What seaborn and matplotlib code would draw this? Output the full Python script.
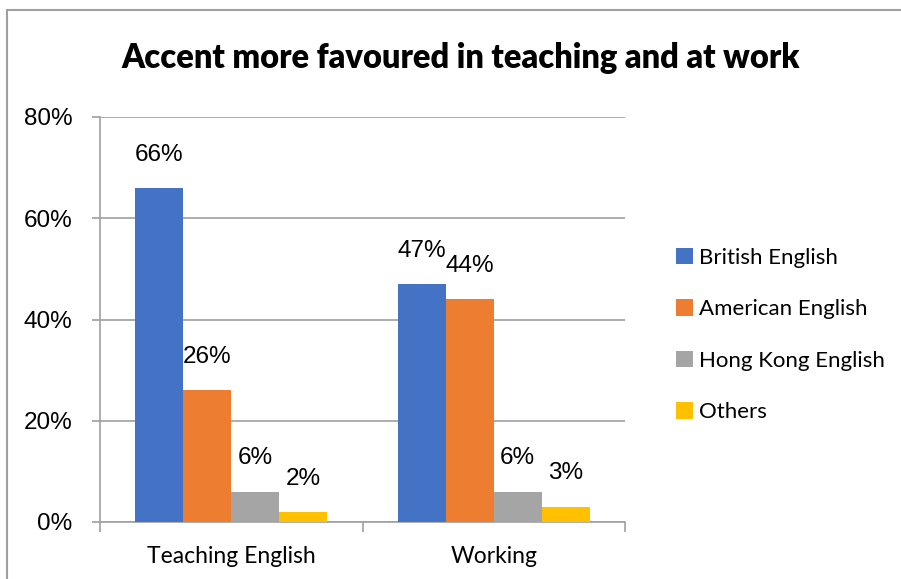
import matplotlib
matplotlib.use("Agg")
import matplotlib.pyplot as plt
import seaborn as sns
import pandas as pd
from matplotlib.lines import Line2D
from matplotlib.patches import Patch

categories = ["Teaching English", "Working"]
series = ["British English", "American English", "Hong Kong English", "Others"]
british = [66, 47]
american = [26, 44]
hongkong = [6, 6]
others = [2, 3]
colors = ["#4472C4", "#ED7D31", "#A5A5A5", "#FFC000"]
yticks = [0, 20, 40, 60, 80]
title = "Accent more favoured in teaching and at work"

rows = []
for s, vals in zip(series, [british, american, hongkong, others]):
    for c, v in zip(categories, vals):
        rows.append({"Category": c, "Series": s, "Value": v})
df = pd.DataFrame(rows)

sns.set_theme(style="white")
plt.rcParams['font.family'] = ['Liberation Sans', 'DejaVu Sans']
plt.rcParams['text.color'] = 'black'
plt.rcParams['xtick.color'] = 'black'
plt.rcParams['ytick.color'] = 'black'

W, H = 901, 579
fig = plt.figure(figsize=(W / 100, H / 100), dpi=100)
ax = fig.add_axes([100 / W, 1 - 522 / H, (625 - 100) / W, (522 - 117) / H])

sns.barplot(data=df, x="Category", y="Value", hue="Series", hue_order=series,
            order=categories, palette=colors, width=0.73, saturation=1,
            ax=ax, legend=False, linewidth=0, zorder=3)

ax.set_ylim(0, 80)
ax.set_xlim(-0.5, 1.5)
ax.set_yticks(yticks)
ax.set_yticklabels([f"{t}%" for t in yticks], fontsize=17.5, family=['Liberation Sans'])
ax.yaxis.grid(True, color="#A0A0A0", linewidth=1.2, zorder=0)
ax.set_axisbelow(True)
ax.set_xlabel("")
ax.set_ylabel("")

for side in ["top", "right"]:
    ax.spines[side].set_visible(False)
for side in ["left", "bottom"]:
    ax.spines[side].set_color("#A0A0A0")
    ax.spines[side].set_linewidth(1.2)

ax.tick_params(axis="y", which="both", left=True, length=6, width=1.2, color="#A0A0A0",
               labelcolor="black", pad=14)
ax.set_xticks([-0.5, 0.5, 1.5])
ax.set_xticklabels([])
ax.tick_params(axis="x", which="major", bottom=True, length=7, width=1.2, color="#A0A0A0")
ax.set_xticks([0, 1], minor=True)
ax.set_xticklabels(categories, minor=True, fontsize=16.5, family=['Lato'])
ax.tick_params(axis="x", which="minor", bottom=False, length=0, pad=17, labelcolor="black")

for cont in ax.containers:
    for bar in cont:
        h = bar.get_height()
        ax.annotate(f"{h:.0f}%", (bar.get_x() + bar.get_width() / 2, h),
                    xytext=(0, 24), textcoords="offset points",
                    ha="center", va="center", fontsize=17.5, color="black",
                    family=['Liberation Sans'])

handles = [Patch(facecolor=c, edgecolor="none") for c in colors]
fig.legend(handles, series, loc="center left", bbox_to_anchor=(656 / W, 1 - 335 / H),
           frameon=False, prop={"family": "Lato", "size": 16},
           handlelength=0.75, handleheight=0.75, handletextpad=0.3, labelspacing=1.42)

fig.text(461 / W, 1 - 58 / H, title, ha="center", va="center", color="black",
         fontsize=23.5, fontweight="heavy", family=['Lato'])

# chart frame
fig.add_artist(Line2D([7 / W, 1], [1 - 10 / H, 1 - 10 / H], color="#A0A0A0", linewidth=1.5,
                      transform=fig.transFigure))
fig.add_artist(Line2D([7 / W, 7 / W], [0, 1 - 10 / H], color="#A0A0A0", linewidth=1.5,
                      transform=fig.transFigure))

fig.savefig("out.png", dpi=100)
